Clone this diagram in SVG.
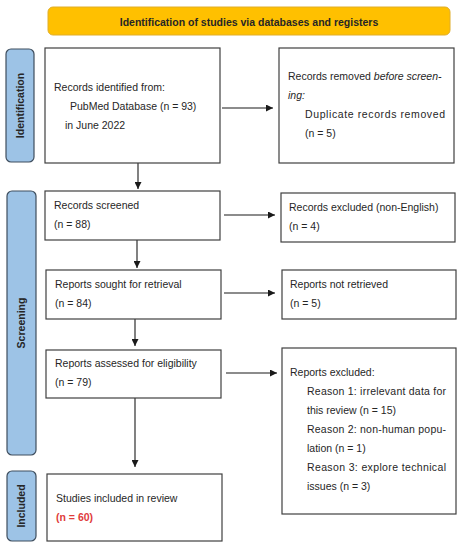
<svg xmlns="http://www.w3.org/2000/svg" width="464" height="550" viewBox="0 0 464 550">
<style>
text{font-family:"Liberation Sans",Arial,sans-serif;font-size:10.5px;fill:#262626}
.box{fill:#fff;stroke:#404040;stroke-width:1.2}
.side{fill:#9DC3E6;stroke:#3F4E5E;stroke-width:1.2}
.lab{font-weight:bold;text-anchor:middle}
.con{stroke:#1a1a1a;stroke-width:1.1;fill:none;marker-end:url(#ah)}
</style>
<defs>
<marker id="ah" viewBox="0 0 10 10" refX="10" refY="5" markerWidth="7" markerHeight="7" markerUnits="userSpaceOnUse" orient="auto">
<path d="M0,0 L10,5 L0,10 z" fill="#1a1a1a"/>
</marker>
</defs>
<rect width="464" height="550" fill="#fff"/>
<g id="banner">
<rect x="48" y="7" width="402" height="28" rx="5" fill="#FFC000" stroke="#E0AE2A" stroke-width="1"/>
<text x="249" y="26" class="lab">Identification of studies via databases and registers</text>
</g>
<g id="side-identification">
<rect class="side" x="6" y="49" width="28" height="113" rx="5"/>
<text class="lab" transform="translate(24,105.5) rotate(-90)">Identification</text>
</g>
<g id="side-screening">
<rect class="side" x="7" y="191" width="29" height="264" rx="5"/>
<text class="lab" transform="translate(25,323) rotate(-90)">Screening</text>
</g>
<g id="side-included">
<rect class="side" x="7" y="471" width="29" height="70" rx="5"/>
<text class="lab" transform="translate(25,506) rotate(-90)">Included</text>
</g>
<g id="connectors">
<line class="con" x1="222" y1="108" x2="273" y2="108"/>
<line class="con" x1="138" y1="163" x2="138" y2="189"/>
<line class="con" x1="224" y1="215" x2="275" y2="215"/>
<line class="con" x1="137" y1="240" x2="137" y2="268"/>
<line class="con" x1="224" y1="293" x2="275" y2="293"/>
<line class="con" x1="135" y1="319" x2="135" y2="346"/>
<line class="con" x1="226" y1="373" x2="277" y2="373"/>
<line class="con" x1="135" y1="398" x2="135" y2="467"/>
</g>
<g id="records-identified">
<rect class="box" x="45" y="48" width="175" height="115"/>
<text x="54" y="91">Records identified from:</text>
<text x="70" y="110">PubMed Database (n = 93)</text>
<text x="65" y="129">in June 2022</text>
</g>
<g id="records-removed">
<rect class="box" x="279" y="48" width="175" height="115"/>
<text x="288" y="80">Records removed <tspan font-style="italic">before screen-</tspan></text>
<text x="288" y="99" font-style="italic">ing:</text>
<text x="305" y="118" textLength="140" lengthAdjust="spacing">Duplicate records removed</text>
<text x="305" y="137">(n = 5)</text>
</g>
<g id="records-screened">
<rect class="box" x="45" y="191" width="175" height="49"/>
<text x="54" y="209">Records screened</text>
<text x="54" y="228">(n = 88)</text>
</g>
<g id="records-excluded">
<rect class="box" x="281" y="193" width="174" height="49"/>
<text x="289" y="211">Records excluded (non-English)</text>
<text x="289" y="230">(n = 4)</text>
</g>
<g id="reports-sought">
<rect class="box" x="46" y="270" width="175" height="49"/>
<text x="55" y="288">Reports sought for retrieval</text>
<text x="55" y="307">(n = 84)</text>
</g>
<g id="reports-not-retrieved">
<rect class="box" x="282" y="270" width="174" height="49"/>
<text x="290" y="288">Reports not retrieved</text>
<text x="290" y="307">(n = 5)</text>
</g>
<g id="reports-assessed">
<rect class="box" x="46" y="350" width="175" height="48"/>
<text x="55" y="367">Reports assessed for eligibility</text>
<text x="55" y="386">(n = 79)</text>
</g>
<g id="reports-excluded">
<rect class="box" x="282" y="348" width="174" height="166"/>
<text x="290" y="376">Reports excluded:</text>
<text x="307" y="395" textLength="139" lengthAdjust="spacing">Reason 1: irrelevant data for</text>
<text x="307" y="414">this review (n = 15)</text>
<text x="307" y="433" textLength="139" lengthAdjust="spacing">Reason 2: non-human popu-</text>
<text x="307" y="452">lation (n = 1)</text>
<text x="307" y="471" textLength="139" lengthAdjust="spacing">Reason 3: explore technical</text>
<text x="307" y="490">issues (n = 3)</text>
</g>
<g id="studies-included">
<rect class="box" x="47" y="474" width="175" height="67"/>
<text x="56" y="502">Studies included in review</text>
<text x="56" y="521" fill="#E03C3C" style="fill:#E03C3C;font-weight:bold">(n = 60)</text>
</g>
</svg>
